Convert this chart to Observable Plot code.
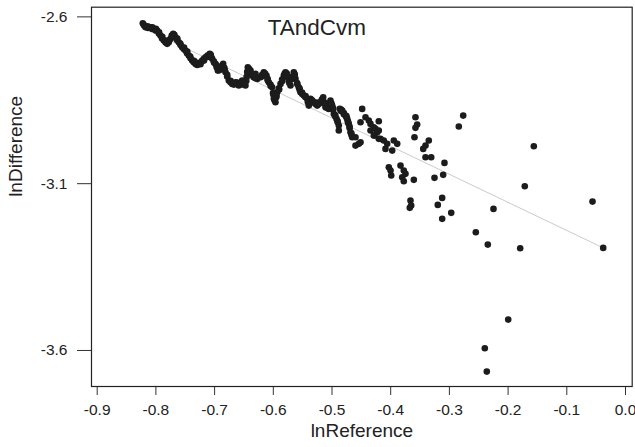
<!DOCTYPE html>
<html><head><meta charset="utf-8">
<script src="https://cdn.jsdelivr.net/npm/d3@7"></script>
<script src="https://cdn.jsdelivr.net/npm/@observablehq/plot@0.6"></script>
<style>html,body{margin:0;padding:0;background:#fff} svg{display:block}</style>
</head><body><div id="chart"></div>
<script>
const title = "TAndCvm";
const xLabel = "lnReference";
const yLabel = "lnDifference";

const lnReference = [
-0.8223,-0.8177,-0.8092,-0.8036,-0.7978,-0.7922,-0.7865,-0.7808,-0.7751,-0.7705,
-0.7666,-0.7610,-0.7552,-0.7496,-0.7440,-0.7382,-0.7325,-0.7269,-0.7211,-0.7155,
-0.7082,-0.7041,-0.6985,-0.6945,-0.6899,-0.6854,-0.6814,-0.6758,-0.6700,-0.6644,
-0.6588,-0.6530,-0.6474,-0.6434,-0.6388,-0.6332,-0.6274,-0.6388,-0.6303,-0.6218,
-0.6162,-0.6116,-0.6077,-0.6019,-0.5991,-0.5963,-0.5934,-0.5877,-0.5821,-0.5792,
-0.5753,-0.5707,-0.5651,-0.5622,-0.5566,-0.5537,-0.5480,-0.5423,-0.5395,-0.5366,
-0.5310,-0.5252,-0.5196,-0.5150,-0.5111,-0.5055,-0.5026,-0.4997,-0.4969,-0.4923,
-0.4884,-0.4884,-0.4867,-0.4826,-0.4770,-0.4741,-0.4714,-0.4685,-0.4656,-0.4600,
-0.4600,-0.4543,-0.4486,-0.4514,-0.4429,-0.4373,-0.4344,-0.4288,-0.4203,-0.4276,
-0.4203,-0.4344,-0.4259,-0.4230,-0.4288,-0.4203,-0.4174,-0.4118,-0.4060,-0.4089,
-0.3974,-0.3947,-0.3889,-0.4514,-0.4032,-0.4003,-0.3991,-0.3833,-0.3777,-0.3748,
-0.3804,-0.3777,-0.3606,-0.3578,-0.3549,-0.3578,-0.3595,-0.3351,-0.3407,-0.3446,
-0.3407,-0.3310,-0.3084,-0.3106,-0.3254,-0.3663,-0.3651,-0.3675,-0.3123,-0.3198,
-0.2969,-0.3123,-0.2765,-0.2840,-0.2550,-0.2346,-0.2249,-0.1794,-0.1716,-0.1562,
-0.0562,-0.0380,-0.1998,-0.2397,-0.2363
];
const lnDifference = [
-2.6192,-2.6312,-2.6312,-2.6360,-2.6411,-2.6561,-2.6710,-2.6809,-2.6660,-2.6510,
-2.6612,-2.6761,-2.6911,-2.7010,-2.7160,-2.7310,-2.7409,-2.7409,-2.7310,-2.7211,
-2.7109,-2.7259,-2.7409,-2.7610,-2.7559,-2.7409,-2.7661,-2.7910,-2.8009,-2.7961,
-2.8059,-2.7910,-2.8059,-2.7511,-2.7709,-2.7811,-2.7859,-2.7610,-2.7709,-2.7811,
-2.7661,-2.7760,-2.7961,-2.8110,-2.8458,-2.8560,-2.8260,-2.8009,-2.7760,-2.7661,
-2.7811,-2.8059,-2.7661,-2.7859,-2.8110,-2.8260,-2.8359,-2.8458,-2.8659,-2.8458,
-2.8560,-2.8659,-2.8560,-2.8410,-2.8710,-2.8758,-2.8509,-2.8659,-2.8908,-2.9058,
-2.9258,-2.9408,-2.8758,-2.8809,-2.8959,-2.9058,-2.9208,-2.9459,-2.9609,-2.9609,
-2.9858,-2.9807,-2.8758,-2.9160,-2.9010,-2.9109,-2.9208,-2.9310,-2.9408,-2.9558,
-2.9657,-2.9408,-2.9357,-2.9459,-2.9558,-2.9131,-2.9657,-2.9708,-2.9807,-2.9957,
-3.0008,-2.9708,-2.9807,-2.9759,-3.0509,-3.0607,-3.0757,-3.0458,-3.0607,-3.0706,
-3.0808,-3.0928,-3.0886,-2.9010,-2.9229,-2.9327,-2.9609,-2.9708,-2.9858,-2.9957,
-3.0209,-3.0209,-3.0377,-3.0736,-3.0826,-3.1507,-3.1656,-3.1725,-3.1426,-3.1636,
-3.1875,-3.2055,-2.8959,-2.9288,-3.2457,-3.2826,-3.1756,-3.2937,-3.1078,-2.9879,
-3.1537,-3.2925,-3.5074,-3.5934,-3.6633
];

// additional points read along the dense, overlapping trail
const trailReference = [
-0.8200,-0.8210,-0.8135,-0.8140,-0.8065,-0.8060,-0.8005,-0.8000,-0.7950,-0.7945,
-0.7895,-0.7890,-0.7835,-0.7840,-0.7780,-0.7785,-0.7730,-0.7725,-0.7685,-0.7690,
-0.7640,-0.7635,-0.7580,-0.7585,-0.7525,-0.7520,-0.7470,-0.7465,-0.7410,-0.7415,
-0.7355,-0.7350,-0.7297,-0.7300,-0.7240,-0.7240,-0.7183,-0.7180,-0.7120,-0.7118,
-0.7060,-0.7065,-0.7013,-0.7010,-0.6965,-0.6960,-0.6920,-0.6925,-0.6877,-0.6875,
-0.6834,-0.6830,-0.6786,-0.6785,-0.6730,-0.6728,-0.6672,-0.6670,-0.6616,-0.6615,
-0.6560,-0.6555,-0.6502,-0.6500,-0.6455,-0.6445,-0.6460,-0.6410,-0.6412,-0.6360,
-0.6355,-0.6303,-0.6300,-0.6190,-0.6190,-0.6140,-0.6138,-0.6097,-0.6095,-0.6048,
-0.6045,-0.6005,-0.6000,-0.5977,-0.5975,-0.5950,-0.5945,-0.5905,-0.5900,-0.5850,
-0.5845,-0.5805,-0.5808,-0.5772,-0.5770,-0.5730,-0.5728,-0.5680,-0.5678,-0.5636,
-0.5635,-0.5594,-0.5590,-0.5550,-0.5552,-0.5508,-0.5510,-0.5452,-0.5450,-0.5410,
-0.5408,-0.5380,-0.5382,-0.5338,-0.5340,-0.5281,-0.5280,-0.5224,-0.5225,-0.5173,
-0.5170,-0.5130,-0.5128,-0.5083,-0.5080,-0.5040,-0.5042,-0.5012,-0.5010,-0.4983,
-0.4980,-0.4946,-0.4945,-0.4903,-0.4905,-0.4846,-0.4846,-0.4798,-0.4798,-0.4755,
-0.4755,-0.4728,-0.4728,-0.4700,-0.4700,-0.4670,-0.4670
];
const trailDifference = [
-2.6260,-2.6230,-2.6330,-2.6280,-2.6360,-2.6310,-2.6410,-2.6360,-2.6500,-2.6460,
-2.6650,-2.6600,-2.6770,-2.6720,-2.6760,-2.6700,-2.6560,-2.6600,-2.6540,-2.6600,
-2.6690,-2.6650,-2.6840,-2.6800,-2.6960,-2.6920,-2.7090,-2.7040,-2.7240,-2.7190,
-2.7360,-2.7320,-2.7440,-2.7380,-2.7370,-2.7420,-2.7260,-2.7310,-2.7160,-2.7200,
-2.7180,-2.7140,-2.7330,-2.7370,-2.7510,-2.7460,-2.7600,-2.7560,-2.7480,-2.7520,
-2.7530,-2.7580,-2.7790,-2.7740,-2.7960,-2.7920,-2.7990,-2.8030,-2.8010,-2.7970,
-2.7980,-2.8030,-2.7990,-2.8030,-2.7800,-2.7650,-2.7920,-2.7610,-2.7560,-2.7760,
-2.7720,-2.7840,-2.7800,-2.7740,-2.7780,-2.7700,-2.7740,-2.7860,-2.7900,-2.8030,
-2.8070,-2.8280,-2.8330,-2.8510,-2.8460,-2.8410,-2.8360,-2.8140,-2.8180,-2.7880,
-2.7920,-2.7700,-2.7740,-2.7740,-2.7700,-2.7930,-2.7980,-2.7860,-2.7800,-2.7760,
-2.7720,-2.7980,-2.8020,-2.8190,-2.8150,-2.8310,-2.8270,-2.8410,-2.8370,-2.8560,
-2.8520,-2.8550,-2.8600,-2.8500,-2.8540,-2.8610,-2.8570,-2.8610,-2.8570,-2.8480,
-2.8520,-2.8560,-2.8600,-2.8730,-2.8690,-2.8630,-2.8590,-2.8580,-2.8620,-2.8780,
-2.8740,-2.8980,-2.8940,-2.9160,-2.9120,-2.8780,-2.8820,-2.8880,-2.8920,-2.9010,
-2.8970,-2.9130,-2.9170,-2.9330,-2.9290,-2.9530,-2.9490
];

const fitX = [-0.8223, -0.0380];
const fitY = [-2.6321, -3.2925];

const xTicks = [-0.9, -0.8, -0.7, -0.6, -0.5, -0.4, -0.3, -0.2, -0.1, 0.0];
const xTickLabels = ["-0.9", "-0.8", "-0.7", "-0.6", "-0.5", "-0.4", "-0.3", "-0.2", "-0.1", "0.0"];
const yTicks = [-2.6, -3.1, -3.6];
const yTickLabels = ["-2.6", "-3.1", "-3.6"];

const points = lnReference.map((x, i) => ({x, y: lnDifference[i]}))
  .concat(trailReference.map((x, i) => ({x, y: trailDifference[i]})));
const fit = fitX.map((x, i) => ({x, y: fitY[i]}));

const chart = Plot.plot({
  width: 635,
  height: 447,
  marginLeft: 91,
  marginRight: 3.3,
  marginTop: 6.7,
  marginBottom: 61,
  style: {fontFamily: "'Liberation Sans', Arial, Helvetica, sans-serif", background: "#fff", color: "#222"},
  x: {domain: [-0.9097, 0.0114]},
  y: {domain: [-3.708, -2.571]},
  marks: [
    Plot.axisX(xTicks, {tickSize: 9, tickPadding: 8, fontSize: 15.5, tickFormat: d => xTickLabels[xTicks.indexOf(d)], label: null, stroke: "#333"}),
    Plot.axisY(yTicks, {tickSize: 14, tickPadding: 10, fontSize: 15.5, tickFormat: d => yTickLabels[yTicks.indexOf(d)], label: null, stroke: "#333"}),
    Plot.line(fit, {x: "x", y: "y", stroke: "#bdbdbd", strokeWidth: 0.8}),
    Plot.dot(points, {x: "x", y: "y", r: 3.3, fill: "#1c1c1c", stroke: "none"}),
    Plot.frame({stroke: "#222", strokeWidth: 1.2}),
    Plot.text([title], {frameAnchor: "top", dx: -45, dy: 11.5, fontSize: 22.5, fill: "#222"}),
    Plot.text([xLabel], {frameAnchor: "bottom", dy: 50, fontSize: 19, fill: "#222"}),
    Plot.text([yLabel], {frameAnchor: "left", dx: -76, rotate: -90, fontSize: 19, fill: "#222"})
  ]
});
document.getElementById("chart").appendChild(chart);
</script>
</body></html>
